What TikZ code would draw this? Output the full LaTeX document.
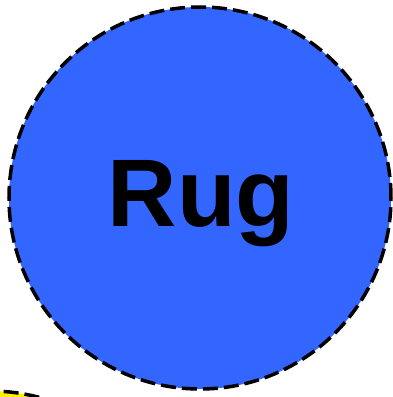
\documentclass[tikz,border=0pt]{standalone}
\usepackage{fontspec}
\setmainfont{Liberation Sans}
\usepackage{tikz}

\definecolor{rugblue}{HTML}{3366FF}

\begin{document}
\begin{tikzpicture}[x=1pt, y=1pt, every node/.style={font=\bfseries\fontsize{96}{110}\selectfont},
	dashedrim/.style={draw=black, line width=3.5pt, dash pattern=on 15pt off 6pt}]
	\useasboundingbox (0,0) rectangle (392,397);
	\begin{scope}
		\clip (0,0) rectangle (392,397);
		\fill[yellow, dashedrim] (-10,-186) circle (192);
	\end{scope}
	\fill[rugblue, dashedrim] (200,199) circle (191);
	\node[anchor=base, inner sep=0pt] (rug) at (201,170) {Rug};
\end{tikzpicture}
\end{document}
